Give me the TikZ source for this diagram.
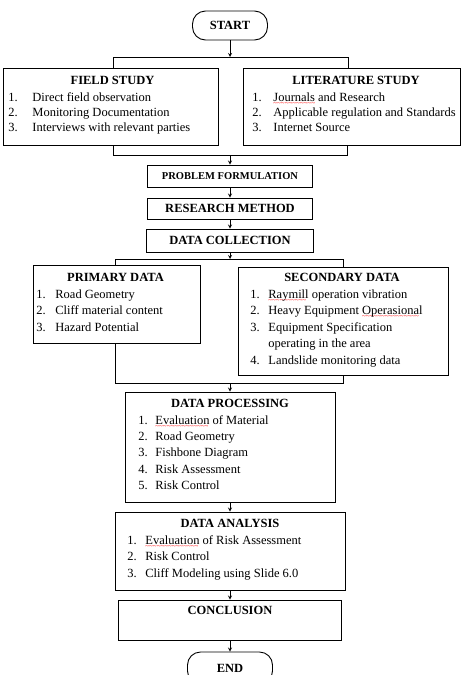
\documentclass[tikz,border=0pt]{standalone}
\usepackage{fontspec}
\setmainfont{Liberation Serif}
\usetikzlibrary{positioning}
\newcommand\typo[1]{\setbox0=\hbox{#1}\rlap{\raisebox{-4pt}[0pt][0pt]{\color{red}\fontsize{7}{7}\selectfont\leaders\hbox{\char"7E}\hskip\wd0}}\box0\relax}
\newcommand\steplist[2]{\begin{tabular}{@{}p{#1}@{}l@{}}#2\end{tabular}}
\tikzset{
  box/.style={draw, line width=0.9pt, inner sep=0pt, font=\fontsize{12.5}{14}\selectfont\bfseries},
  term/.style={box, rounded corners=13pt},
  boxtitle/.style={inner sep=0pt, font=\fontsize{12.5}{14}\selectfont\bfseries},
  boxlist/.style={anchor=north west, inner sep=0pt, font=\fontsize{12.5}{16.5}\selectfont},
}
\begin{document}
\begin{tikzpicture}[x=1pt,y=-1pt,>=stealth,line width=0.8pt]
  \useasboundingbox (0,0) rectangle (463,675);
  \clip (0,0) rectangle (463,675);

  % start and the two studies
  \node[term, minimum width=75pt, minimum height=29pt] (start) at (230,25.5) {START};
  \node[box, minimum width=215pt, minimum height=77pt] (field) at (110.5,106.5) {};
  \node[box, minimum width=217pt, minimum height=77pt] (lit) at (351.5,106.5) {};
  \node[boxtitle] (fieldtitle) at (112.5,80) {FIELD STUDY};
  \node[boxlist, font=\fontsize{12.5}{15}\selectfont] (fieldlist) at (8,90.5)
    {\steplist{24pt}{1. & Direct field observation\\ 2. & Monitoring Documentation\\ 3. & Interviews with relevant parties}};
  \node[boxtitle] (littitle) at (356,80) {LITERATURE STUDY};
  \node[boxlist, font=\fontsize{12.5}{15}\selectfont] (litlist) at (252,90.5)
    {\steplist{21pt}{1. & \typo{Journals} and Research\\ 2. & Applicable regulation and Standards\\ 3. & Internet Source}};

  % middle column
  \node[box, minimum width=165pt, minimum height=22pt, font=\fontsize{10.5}{12}\selectfont\bfseries] (prob) at (230,176) {PROBLEM FORMULATION};
  \node[box, minimum width=165pt, minimum height=21pt] (meth) at (230,208.5) {RESEARCH METHOD};
  \node[box, minimum width=167pt, minimum height=23pt] (coll) at (230,240.5) {DATA COLLECTION};

  % primary and secondary data
  \node[box, minimum width=167pt, minimum height=78pt] (prim) at (116.5,304) {};
  \node[box, minimum width=210pt, minimum height=108pt] (sec) at (343,321) {};
  \node[boxtitle] (primtitle) at (115.5,277) {PRIMARY DATA};
  \node[boxlist] (primlist) at (36,286.5)
    {\steplist{19pt}{1. & Road Geometry\\ 2. & Cliff material content\\ 3. & Hazard Potential}};
  \node[boxtitle] (sectitle) at (342,277) {SECONDARY DATA};
  \node[boxlist] (seclist) at (250,286.5)
    {\steplist{18pt}{1. & \typo{Raymill} operation vibration\\ 2. & Heavy Equipment \typo{Operasional}\\ 3. & Equipment Specification\\ & operating in the area\\ 4. & Landslide monitoring data}};

  % processing, analysis, conclusion
  \node[box, minimum width=210pt, minimum height=110pt] (proc) at (230,447) {};
  \node[boxtitle] (proctitle) at (230,403) {DATA PROCESSING};
  \node[boxlist, font=\fontsize{12.5}{16.3}\selectfont] (proclist) at (138,412.5)
    {\steplist{17pt}{1. & \typo{Evaluation} of Material\\ 2. & Road Geometry\\ 3. & Fishbone Diagram\\ 4. & Risk Assessment\\ 5. & Risk Control}};
  \node[box, minimum width=230pt, minimum height=78pt] (anal) at (230,551) {};
  \node[boxtitle] (analtitle) at (230,523) {DATA ANALYSIS};
  \node[boxlist] (anallist) at (127,532.5)
    {\steplist{18pt}{1. & \typo{Evaluation} of Risk Assessment\\ 2. & Risk Control\\ 3. & Cliff Modeling using Slide 6.0}};
  \node[box, minimum width=223pt, minimum height=40pt] (concl) at (230,620) {};
  \node[boxtitle] (concltitle) at (230,610) {CONCLUSION};
  \node[term, minimum width=85pt, minimum height=32pt] (end) at (230,668) {END};

  % branch points
  \coordinate (j1) at (230,57);
  \coordinate (j1l) at (113,57);
  \coordinate (j1r) at (348,57);
  \coordinate (j2) at (230,155);
  \coordinate (j2l) at (113,155);
  \coordinate (j2r) at (347,155);
  \coordinate (j3) at (230,259);
  \coordinate (j3l) at (115,259);
  \coordinate (j3r) at (343,259);
  \coordinate (j4) at (230,383);
  \coordinate (j4l) at (115,383);
  \coordinate (j4r) at (343,383);

  % connectors
  \draw[->] (start) -- (j1);
  \draw (j1l |- field.north) -- (j1l) -- (j1r) -- (j1r |- lit.north);
  \draw (j2l |- field.south) -- (j2l) -- (j2r) -- (j2r |- lit.south);
  \draw[->] (j2) -- (prob);
  \draw[->] (prob) -- (meth);
  \draw[->] (meth) -- (coll);
  \draw[->] (coll) -- (j3);
  \draw (j3l |- prim.north) -- (j3l) -- (j3r) -- (j3r |- sec.north);
  \draw (j4l |- prim.south) -- (j4l) -- (j4r) -- (j4r |- sec.south);
  \draw[->] (j4) -- (proc);
  \draw[->] (proc) -- (anal);
  \draw[->] (anal) -- (concl);
  \draw[->] (concl) -- (end);
\end{tikzpicture}
\end{document}
